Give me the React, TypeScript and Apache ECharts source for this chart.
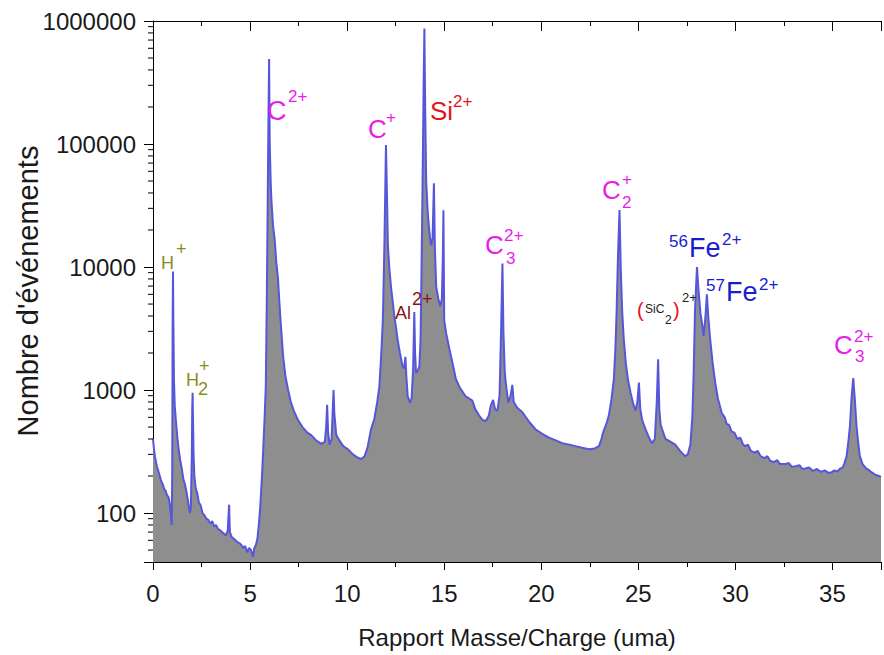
import React, { useEffect, useRef } from "react";
import * as echarts from "echarts";

// ---- spectrum data (mass/charge in uma, number of events) ----
const massA = [0.0, 0.05, 0.1, 0.15, 0.2, 0.28, 0.35, 0.42, 0.5, 0.58, 0.65, 0.72, 0.8, 0.86, 0.92, 0.96, 0.99, 1.01, 1.03, 1.05, 1.08, 1.12, 1.18, 1.25, 1.32, 1.4, 1.48, 1.56, 1.64, 1.72, 1.8, 1.86, 1.9, 1.95, 2.0, 2.02, 2.04, 2.06, 2.09, 2.13, 2.2, 2.28, 2.36, 2.45, 2.55, 2.65, 2.75, 2.85, 2.95, 3.05, 3.15, 3.25, 3.35, 3.45, 3.55, 3.65, 3.75, 3.85, 3.92, 3.96, 4.05, 4.15, 4.25, 4.35, 4.45, 4.55, 4.65, 4.75, 4.85, 4.95, 5.05, 5.15, 5.22, 5.3, 5.38, 5.45, 5.52, 5.6, 5.67, 5.74, 5.81, 5.86];
const countsA = [400, 330, 290, 262, 240, 218, 200, 182, 172, 156, 152, 140, 135, 120, 100, 80, 200, 3000, 9200, 3500, 1200, 750, 560, 420, 330, 270, 232, 190, 172, 150, 126, 110, 100, 110, 300, 700, 950, 600, 300, 200, 160, 145, 122, 116, 100, 96, 90, 88, 82, 86, 78, 80, 74, 73, 70, 68, 66, 72, 117, 70, 64, 62, 60, 58, 57, 55, 52, 54, 48, 52, 50, 44, 52, 55, 62, 80, 110, 180, 310, 550, 1070, 5000];

const massB = [5.9, 5.94, 5.98, 6.01, 6.06, 6.1, 6.18, 6.27, 6.35, 6.44, 6.5, 6.58, 6.7, 6.82, 6.96, 7.1, 7.25, 7.47, 7.7, 7.95, 8.15, 8.4, 8.67, 8.85, 8.92, 8.97, 9.02, 9.1, 9.2, 9.26, 9.3, 9.34, 9.44, 9.6, 9.8, 10.04, 10.3, 10.5, 10.72, 10.9, 11.05, 11.23];
const countsB = [24000, 120000, 490000, 108000, 50000, 35000, 22000, 16600, 11000, 8000, 5500, 3500, 1900, 1300, 1000, 800, 680, 570, 500, 450, 430, 390, 365, 380, 500, 760, 450, 360, 400, 700, 1000, 650, 430, 390, 350, 330, 300, 285, 275, 290, 340, 480];

const massC = [11.4, 11.55, 11.66, 11.76, 11.84, 11.92, 12.0, 12.05, 12.1, 12.18, 12.26, 12.35, 12.43, 12.52, 12.6, 12.72, 12.86, 12.94, 13.0, 13.05, 13.12, 13.24, 13.32, 13.4, 13.46, 13.5, 13.55, 13.65, 13.72, 13.78, 13.81, 13.88, 13.94, 13.98, 14.02, 14.07, 14.15, 14.24, 14.32, 14.4, 14.47, 14.52, 14.59, 14.7, 14.8, 14.88, 14.93, 14.96, 15.0, 15.1, 15.27, 15.45, 15.6, 15.8, 16.1, 16.3, 16.45, 16.6, 16.8, 16.98, 17.15, 17.3, 17.4, 17.52, 17.62, 17.74, 17.85, 17.93, 18.0, 18.05, 18.12, 18.17, 18.3, 18.42, 18.51, 18.58, 18.75];
const countsC = [580, 800, 1070, 2000, 3700, 15000, 98000, 40000, 15000, 9500, 6900, 5200, 4000, 3200, 2570, 2000, 1550, 1500, 1860, 1300, 890, 790, 850, 1500, 4300, 2000, 1380, 1450, 1550, 2500, 5100, 40000, 300000, 870000, 200000, 51000, 28000, 19000, 15000, 17000, 48000, 14000, 6900, 5500, 4800, 5500, 12000, 29000, 3700, 2900, 2150, 1600, 1230, 1050, 890, 850, 820, 700, 620, 570, 560, 620, 750, 830, 700, 680, 900, 3000, 10700, 3000, 1400, 1150, 790, 900, 1100, 800, 720];

const massD = [19.03, 19.35, 19.7, 20.05, 20.4, 20.75, 21.08, 21.45, 21.77, 22.1, 22.46, 22.75, 22.97, 23.1, 23.2, 23.35, 23.48, 23.62, 23.74, 23.82, 23.88, 23.95, 24.03, 24.1, 24.17, 24.25, 24.35, 24.47, 24.6, 24.73, 24.86, 24.95, 25.03, 25.1, 25.2, 25.37, 25.55, 25.71, 25.85, 25.95, 26.02, 26.08, 26.15, 26.4, 26.65, 26.9, 27.15, 27.4, 27.55, 27.68, 27.78, 27.85, 27.92, 28.02, 28.1, 28.2, 28.28, 28.36, 28.45, 28.53, 28.6, 28.7, 28.82, 28.96];
const countsD = [660, 560, 480, 440, 410, 390, 370, 360, 350, 340, 330, 335, 350, 400, 460, 530, 620, 850, 1230, 2200, 4300, 12000, 29000, 9000, 4300, 2600, 1680, 1200, 950, 780, 680, 800, 1150, 700, 570, 480, 410, 370, 400, 800, 1780, 700, 520, 400, 380, 360, 320, 290, 300, 360, 600, 1380, 4500, 10000, 6500, 4200, 3500, 2750, 3800, 6000, 4000, 2600, 1700, 1150];

const massE = [29.1, 29.3, 29.45, 29.55, 29.68, 29.8, 29.95, 30.1, 30.25, 30.4, 30.5, 30.65, 30.8, 31.0, 31.15, 31.3, 31.5, 31.65, 31.8, 32.0, 32.15, 32.3, 32.56, 32.75, 32.9, 33.1, 33.3, 33.45, 33.6, 33.8, 34.0, 34.2, 34.4, 34.6, 34.8, 34.96, 35.1, 35.25, 35.4, 35.5, 35.6, 35.73, 35.82, 35.9, 35.98, 36.07, 36.15, 36.24, 36.32, 36.41, 36.55, 36.75, 36.9, 37.0, 37.2, 37.4, 37.5];
const countsE = [850, 650, 600, 530, 520, 460, 450, 400, 410, 360, 350, 360, 320, 310, 320, 290, 280, 290, 265, 260, 270, 250, 250, 255, 238, 240, 245, 228, 230, 235, 220, 228, 216, 222, 212, 215, 222, 218, 230, 232, 250, 290, 380, 510, 850, 1250, 850, 510, 380, 290, 250, 230, 222, 215, 205, 200, 197];

// ---- axes ----
const xTicks = [0, 5, 10, 15, 20, 25, 30, 35];
const yTickLabels = [100, 1000, 10000, 100000, 1000000];
const minorMultipliers = [2, 3, 4, 5, 6, 7, 8, 9];
const minorDecades = [10, 100, 1000, 10000, 100000];

const FONT = '"Liberation Sans", Arial, sans-serif';
const MAGENTA = "#e81ee8";
const RED = "#e3141c";
const DARKRED = "#8a1212";
const BLUE = "#1c1ccf";
const OLIVE = "#8c8c1c";

type Part = [string, number, number, number, string];
// [text, left x, middle y, font size, color]
const labelParts: Part[] = [
  ["H", 161, 263, 18, OLIVE], ["+", 176, 249, 18, OLIVE],
  ["H", 186, 380, 18, OLIVE], ["2", 198, 389, 18, OLIVE], ["+", 199, 366, 18, OLIVE],
  ["C", 267, 111, 27, MAGENTA], ["2+", 288, 96, 17, MAGENTA],
  ["C", 368, 129, 26, MAGENTA], ["+", 386, 117, 17, MAGENTA],
  ["Si", 430, 111, 26, RED], ["2+", 453, 101, 17, RED],
  ["Al", 395, 313, 18, DARKRED], ["2+", 412, 299, 18, DARKRED],
  ["C", 485, 245, 26, MAGENTA], ["2+", 504, 235, 17, MAGENTA], ["3", 506, 258, 17, MAGENTA],
  ["C", 602, 190, 26, MAGENTA], ["+", 622, 179, 17, MAGENTA], ["2", 622, 202, 17, MAGENTA],
  ["56", 669, 241, 17, BLUE], ["Fe", 689, 248, 27, BLUE], ["2+", 722, 239, 17, BLUE],
  ["57", 706, 285, 17, BLUE], ["Fe", 726, 292, 27, BLUE], ["2+", 759, 284, 17, BLUE],
  ["(", 637, 310, 20, RED], ["SiC", 645, 309, 12, "#222"], ["2", 665, 320, 12, "#222"], [")", 673, 310, 20, RED], ["2+", 682, 297, 13, "#222"],
  ["C", 834, 345, 26, MAGENTA], ["2+", 854, 336, 17, MAGENTA], ["3", 855, 356, 17, MAGENTA],
];

function zip(m: number[], c: number[]) {
  return m.map((v, i) => [v, c[i]]);
}

export default function App() {
  const ref = useRef<HTMLDivElement>(null);
  useEffect(() => {
    if (!ref.current) return;
    const chart = echarts.init(ref.current, undefined, { renderer: "svg" });
    const data = [
      ...zip(massA, countsA),
      ...zip(massB, countsB),
      ...zip(massC, countsC),
      ...zip(massD, countsD),
      ...zip(massE, countsE),
    ];
    const minorData: number[][] = [];
    minorDecades.forEach((d) =>
      minorMultipliers.forEach((k) => {
        const v = d * k;
        if (v > 40 && v < 1000000) minorData.push([0, v]);
      })
    );
    const graphics: any[] = labelParts.map(([t, x, y, s, c]) => ({
      type: "text",
      x,
      y,
      silent: true,
      z: 100,
      style: { text: t, fill: c, fontSize: s, fontFamily: FONT, align: "left", verticalAlign: "middle" },
    }));
    graphics.push({
      type: "text",
      x: 28,
      y: 291,
      rotation: Math.PI / 2,
      silent: true,
      style: { text: "Nombre d'événements", fill: "#1a1a1a", fontSize: 29, fontFamily: FONT, align: "center", verticalAlign: "middle" },
    });
    chart.setOption({
      animation: false,
      backgroundColor: "#ffffff",
      grid: { left: 153, top: 21, right: 0, bottom: 93, containLabel: false },
      xAxis: [
        {
          type: "value",
          min: 0,
          max: 37.5,
          interval: 5,
          position: "bottom",
          axisLine: { show: true, onZero: false, lineStyle: { color: "#000", width: 1 } },
          axisTick: { show: true, inside: false, length: 8, lineStyle: { color: "#000" } },
          minorTick: { show: true, splitNumber: 2, length: 5, lineStyle: { color: "#000" } },
          splitLine: { show: false },
          axisLabel: {
            fontSize: 24,
            fontFamily: FONT,
            color: "#1a1a1a",
            margin: 19,
            formatter: (v: number) => (xTicks.includes(v) ? String(v) : ""),
          },
          name: "Rapport Masse/Charge (uma)",
          nameLocation: "middle",
          nameGap: 63,
          nameTextStyle: { fontSize: 24, fontFamily: FONT, color: "#1a1a1a" },
        },
        {
          type: "value",
          min: 0,
          max: 37.5,
          interval: 5,
          position: "top",
          axisLine: { show: true, onZero: false, lineStyle: { color: "#000", width: 1 } },
          axisTick: { show: true, inside: true, length: 10, lineStyle: { color: "#000" } },
          minorTick: { show: true, splitNumber: 2, length: 5, lineStyle: { color: "#000" } },
          splitLine: { show: false },
          axisLabel: { show: false },
        },
      ],
      yAxis: {
        type: "log",
        logBase: 10,
        min: 40,
        max: 1000000,
        axisLine: { show: true, lineStyle: { color: "#000", width: 1 } },
        axisTick: { show: true, inside: false, length: 9, lineStyle: { color: "#000" } },
        splitLine: { show: false },
        axisLabel: {
          fontSize: 24,
          fontFamily: FONT,
          color: "#1a1a1a",
          margin: 17,
          formatter: (v: number) => {
            const r = Math.round(v);
            return yTickLabels.includes(r) ? String(r) : "";
          },
        },
      },
      series: [
        {
          type: "line",
          data,
          xAxisIndex: 0,
          showSymbol: false,
          symbol: "none",
          lineStyle: { color: "#5656dc", width: 2 },
          areaStyle: { color: "#8e8e8e", opacity: 1, origin: "start" },
          z: 2,
        },
        {
          type: "custom",
          data: minorData,
          xAxisIndex: 0,
          silent: true,
          clip: false,
          z: 5,
          renderItem: (params: any, api: any) => {
            const p = api.coord([0, api.value(1)]);
            return {
              type: "line",
              shape: { x1: p[0] - 5, y1: p[1], x2: p[0], y2: p[1] },
              style: { stroke: "#000", lineWidth: 1 },
            };
          },
        },
      ],
      graphic: graphics,
    });
    return () => chart.dispose();
  }, []);
  return (
    <div
      ref={ref}
      style={{ position: "fixed", left: 0, top: 0, width: 884, height: 655 }}
    />
  );
}
